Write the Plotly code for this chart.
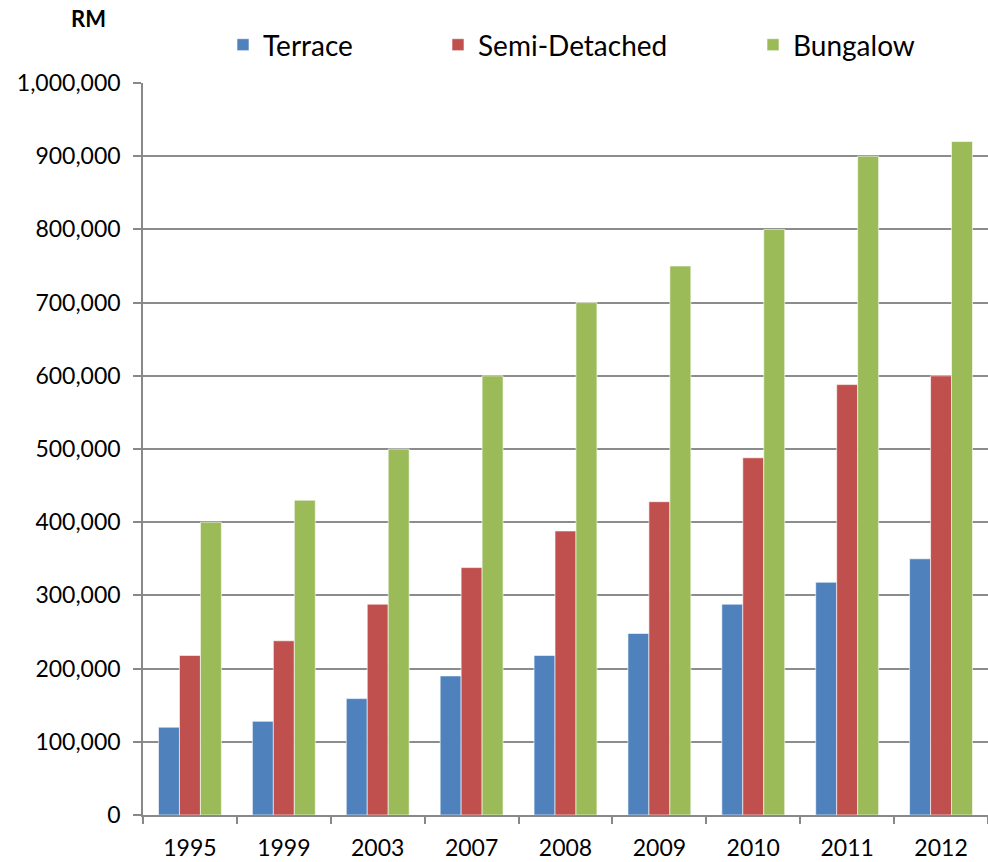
import plotly.graph_objects as go

years = ["1995", "1999", "2003", "2007", "2008", "2009", "2010", "2011", "2012"]
terrace = [120000, 128000, 159000, 190000, 218000, 248000, 288000, 318000, 350000]
semi_detached = [218000, 238000, 288000, 338000, 388000, 428000, 488000, 588000, 600000]
bungalow = [400000, 430000, 500000, 600000, 700000, 750000, 800000, 900000, 920000]

series_names = ["Terrace", "Semi-Detached", "Bungalow"]
colors = ["#4F81BD", "#C0504D", "#9BBB59"]
legend_ids = ["legend", "legend2", "legend3"]

fig = go.Figure()
for name, vals, col, lg in zip(series_names, [terrace, semi_detached, bungalow], colors, legend_ids):
    fig.add_trace(go.Bar(
        x=years, y=vals, name=name, legend=lg,
        marker=dict(color=col, line=dict(color="rgba(255,255,255,0.6)", width=1)),
    ))

font_family = "Lato, 'Open Sans', sans-serif"
W, H, L, R, T, B = 988, 862, 143, 0, 83, 47
pw = W - L - R
ph = H - T - B

def legend_cfg(px):
    return dict(
        orientation="h", x=(px - L) / pw, xanchor="left", y=1 - 45 / H, yanchor="middle",
        yref="container", font=dict(size=28, family=font_family), itemwidth=30,
        bgcolor="rgba(0,0,0,0)",
    )

fig.update_layout(
    width=W, height=H,
    margin=dict(l=L, r=R, t=T, b=B, autoexpand=False),
    paper_bgcolor="white", plot_bgcolor="white",
    barmode="group", bargap=0.33, bargroupgap=0,
    font=dict(family=font_family, size=23, color="black"),
    showlegend=True,
    legend=legend_cfg(223),
    legend2=legend_cfg(438),
    legend3=legend_cfg(753),
    xaxis=dict(
        type="category", showgrid=False, showline=True, linecolor="#888888", linewidth=1.5,
        ticks="outside", tickson="boundaries", ticklen=7, tickcolor="#888888", tickwidth=1.5,
        tickfont=dict(size=23), ticklabelstandoff=12, automargin=False,
    ),
    yaxis=dict(
        range=[0, 1000000], dtick=100000, tickformat=",", showgrid=True,
        gridcolor="#8c8c8c", gridwidth=1.5, showline=True, linecolor="#888888", linewidth=1.5,
        ticks="outside", ticklen=8, tickcolor="#888888", tickwidth=1.5,
        tickfont=dict(size=23), zeroline=False, ticklabelstandoff=8, automargin=False,
    ),
    annotations=[dict(
        text="<b>RM</b>", xref="paper", yref="paper",
        x=(88 - L) / pw, y=1 + (T - 18) / ph, xanchor="center", yanchor="middle",
        showarrow=False, font=dict(size=22),
    )],
)

fig.write_html("out.html")
